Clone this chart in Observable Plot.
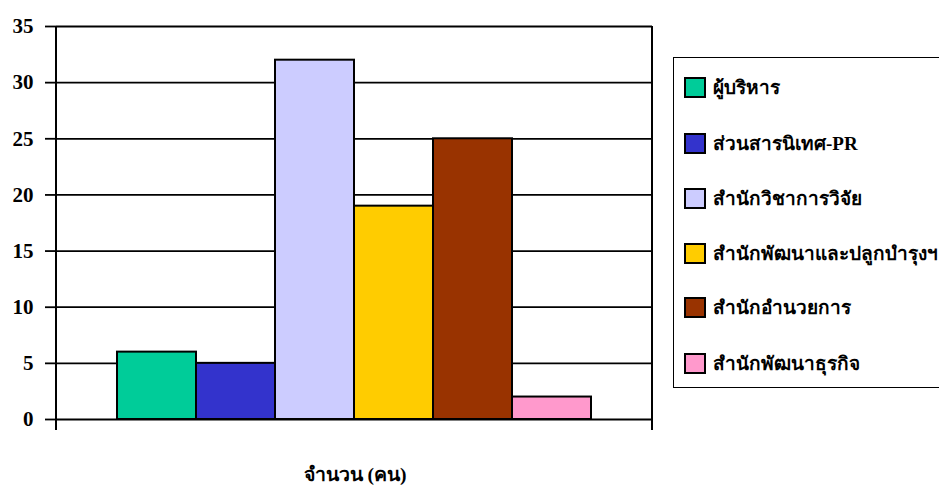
<!DOCTYPE html>
<html><head><meta charset="utf-8">
<script src="https://cdn.jsdelivr.net/npm/d3@7"></script>
<script src="https://cdn.jsdelivr.net/npm/@observablehq/plot@0.6"></script>
<style>
body{margin:0;background:#fff;}
#wrap{position:relative;width:939px;height:486px;overflow:hidden;font-family:"Liberation Serif","Times New Roman",serif;font-weight:bold;color:#000;}
#chart{position:absolute;left:0;top:0;}
#legend{position:absolute;left:673px;top:57px;width:320px;height:331px;border:1.5px solid #000;box-sizing:border-box;background:#fff;}
.item{position:absolute;left:10px;height:22px;display:flex;align-items:center;white-space:nowrap;font-size:19px;}
.sw{width:18px;height:17px;border:2px solid #000;margin-right:7px;flex:none;}
#xlabel{position:absolute;left:255px;width:200px;top:459px;text-align:center;font-size:19.5px;}
</style></head>
<body>
<div id="wrap"><div id="chart"></div><div id="legend"></div><div id="xlabel"></div></div>
<script>
const categories = ["ผู้บริหาร","ส่วนสารนิเทศ-PR","สำนักวิชาการวิจัย","สำนักพัฒนาและปลูกบำรุงฯ","สำนักอำนวยการ","สำนักพัฒนาธุรกิจ"];
const values = [6, 5, 32, 19, 25, 2];
const colors = ["#00CC99","#3333CC","#CCCCFF","#FFCC00","#993300","#FF99CC"];
const yTicks = [0, 5, 10, 15, 20, 25, 30, 35];
const xTitle = "จำนวน (คน)";

const data = categories.map((c, i) => ({cat: c, value: values[i]}));

const edges = (index, scales, vals, dims) => {
  const g = d3.create("svg:g");
  const t = dims.marginTop, b = dims.height - dims.marginBottom;
  [dims.marginLeft, dims.width - dims.marginRight].forEach(x => {
    g.append("line").attr("x1", x).attr("x2", x).attr("y1", t).attr("y2", b + 11)
      .attr("stroke", "#000").attr("stroke-width", 2);
  });
  return g.node();
};

const chart = Plot.plot({
  width: 939, height: 450,
  marginLeft: 56, marginRight: 287, marginTop: 26, marginBottom: 31,
  style: {fontFamily: '"Liberation Serif","Times New Roman",serif', fontWeight: "bold", background: "transparent"},
  x: {domain: categories, paddingInner: 0, paddingOuter: 0.745, axis: null},
  y: {domain: [0, 35], axis: null},
  color: {domain: categories, range: colors},
  marks: [
    Plot.ruleY(yTicks, {stroke: "#000", strokeWidth: 1.8}),
    Plot.axisY({ticks: yTicks, tickSize: 11, tickPadding: 12, stroke: "#000", strokeWidth: 1.8, fill: "#000", fontSize: 21, fontWeight: "bold", label: null, strokeOpacity: 1}),
    Plot.barY(data, {x: "cat", y: "value", fill: "cat", stroke: "#000", strokeWidth: 2}),
    edges
  ]
});
document.getElementById("chart").appendChild(chart);

const legend = document.getElementById("legend");
const rowTops = [18, 74, 129, 184, 238, 294];
categories.forEach((c, i) => {
  const it = document.createElement("div");
  it.className = "item";
  it.style.top = rowTops[i] + "px";
  it.innerHTML = `<span class="sw" style="background:${colors[i]}"></span><span>${c}</span>`;
  legend.appendChild(it);
});
document.getElementById("xlabel").textContent = xTitle;
</script>
</body></html>
